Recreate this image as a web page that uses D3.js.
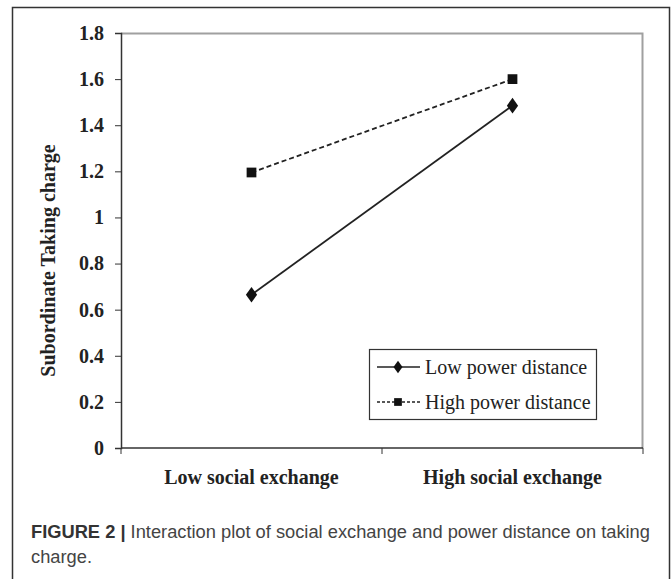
<!DOCTYPE html>
<html>
<head>
<meta charset="utf-8">
<script src="https://cdn.jsdelivr.net/npm/d3@7"></script>
<style>
  body { margin: 0; background: #fff; }
  svg { display: block; }
</style>
</head>
<body>
<div id="chart"></div>
<script>
// data
var categories = ["Low social exchange", "High social exchange"];
var seriesNames = ["Low power distance", "High power distance"];
var lowPower = [0.665, 1.485];
var highPower = [1.195, 1.6];
var yTicks = [0, 0.2, 0.4, 0.6, 0.8, 1, 1.2, 1.4, 1.6, 1.8];

var W = 672, H = 579;
var margin = {top: 33, right: 29, bottom: 131, left: 121},
    width = W - margin.left - margin.right,
    height = H - margin.top - margin.bottom;

var svg = d3.select("#chart").append("svg")
    .attr("width", W)
    .attr("height", H);

// outer figure frame
svg.append("rect")
    .attr("x", 12.5).attr("y", 7.5)
    .attr("width", 657).attr("height", 620)
    .attr("fill", "none")
    .attr("stroke", "#333")
    .attr("stroke-width", 1.5);

var g = svg.append("g")
    .attr("transform", "translate(" + margin.left + "," + margin.top + ")");

var x = d3.scaleBand().domain(categories).range([0, width]);
var y = d3.scaleLinear().domain([0, 1.8]).range([height, 0]);

// plot area border (top / right in grey)
g.append("path")
    .attr("d", "M0,0.5H" + (width - 0.5) + "V" + height)
    .attr("fill", "none")
    .attr("stroke", "#a0a0a0")
    .attr("stroke-width", 2);

var serif = "'Liberation Serif', 'Times New Roman', serif";

var yAxis = g.append("g")
    .call(d3.axisLeft(y).tickValues(yTicks).tickSize(6).tickPadding(11)
      .tickFormat(function(d) { return d; }));
yAxis.select(".domain").attr("stroke", "#333").attr("stroke-width", 1.5);
yAxis.selectAll(".tick line").attr("stroke", "#333");
yAxis.selectAll("text")
    .style("font-family", serif)
    .style("font-size", "20px")
    .style("font-weight", "bold")
    .attr("fill", "#222");

// x axis: ticks on the category boundaries
var xAxis = g.append("g")
    .attr("transform", "translate(0," + height + ")");
xAxis.append("line")
    .attr("x1", 0).attr("x2", width)
    .attr("stroke", "#333").attr("stroke-width", 1.5);
xAxis.selectAll(".bound")
    .data([0].concat(categories.map(function(c) { return x(c) + x.bandwidth(); })))
    .enter().append("line")
    .attr("x1", function(d) { return d; })
    .attr("x2", function(d) { return d; })
    .attr("y1", 0).attr("y2", 6)
    .attr("stroke", "#333");
xAxis.selectAll(".cat")
    .data(categories)
    .enter().append("text")
    .attr("x", function(d) { return x(d) + x.bandwidth() / 2; })
    .attr("y", 36)
    .attr("text-anchor", "middle")
    .style("font-family", serif)
    .style("font-size", "20px")
    .style("font-weight", "bold")
    .attr("fill", "#222")
    .text(function(d) { return d; });

// y title
g.append("text")
    .attr("transform", "translate(-66," + (height / 2 + 20) + ") rotate(-90)")
    .attr("text-anchor", "middle")
    .style("font-family", serif)
    .style("font-size", "20px")
    .style("font-weight", "bold")
    .attr("fill", "#222")
    .text("Subordinate Taking charge");

var cx = function(i) { return x(categories[i]) + x.bandwidth() / 2; };
var line = d3.line()
    .x(function(d, i) { return cx(i); })
    .y(function(d) { return y(d); });

g.append("path")
    .datum(lowPower)
    .attr("d", line)
    .attr("fill", "none")
    .attr("stroke", "#222")
    .attr("stroke-width", 1.8);

g.append("path")
    .datum(highPower)
    .attr("d", line)
    .attr("fill", "none")
    .attr("stroke", "#222")
    .attr("stroke-width", 1.8)
    .attr("stroke-dasharray", "5,3");

var diamond = d3.symbol().type(d3.symbolDiamond).size(70);
var square = d3.symbol().type(d3.symbolSquare).size(95);

g.selectAll(".dia")
    .data(lowPower)
    .enter().append("path")
    .attr("d", diamond)
    .attr("transform", function(d, i) { return "translate(" + cx(i) + "," + y(d) + ") scale(1.25,1)"; })
    .attr("fill", "#111");

g.selectAll(".sq")
    .data(highPower)
    .enter().append("path")
    .attr("d", square)
    .attr("transform", function(d, i) { return "translate(" + cx(i) + "," + y(d) + ")"; })
    .attr("fill", "#111");

// legend
var legend = svg.append("g").attr("transform", "translate(369,349)");
legend.append("rect")
    .attr("x", 0.5).attr("y", 0.5)
    .attr("width", 227).attr("height", 70)
    .attr("fill", "#fff")
    .attr("stroke", "#333")
    .attr("stroke-width", 1.2);

var rows = legend.selectAll(".row")
    .data(seriesNames)
    .enter().append("g")
    .attr("transform", function(d, i) { return "translate(0," + (18 + i * 35) + ")"; });

rows.append("line")
    .attr("x1", 8).attr("x2", 51)
    .attr("stroke", "#222")
    .attr("stroke-width", 1.5)
    .attr("stroke-dasharray", function(d, i) { return i ? "3,2" : null; });
rows.append("path")
    .attr("d", function(d, i) { return i ? d3.symbol().type(d3.symbolSquare).size(60)() : d3.symbol().type(d3.symbolDiamond).size(45)(); })
    .attr("transform", function(d, i) { return i ? "translate(29,0)" : "translate(29,0) scale(1.25,1)"; })
    .attr("fill", "#111");
rows.append("text")
    .attr("x", 56)
    .attr("y", 7)
    .style("font-family", serif)
    .style("font-size", "20px")
    .attr("fill", "#222")
    .text(function(d) { return d; });

// caption
var caption = svg.append("text")
    .attr("x", 31).attr("y", 538)
    .style("font-family", "'Liberation Sans', Arial, sans-serif")
    .style("font-size", "18.3px")
    .attr("fill", "#444");
caption.append("tspan").style("font-weight", "bold").attr("fill", "#333").text("FIGURE 2 | ");
caption.append("tspan").text("Interaction plot of social exchange and power distance on taking");
svg.append("text")
    .attr("x", 31).attr("y", 563)
    .style("font-family", "'Liberation Sans', Arial, sans-serif")
    .style("font-size", "18.3px")
    .attr("fill", "#444")
    .text("charge.");
</script>
</body>
</html>
